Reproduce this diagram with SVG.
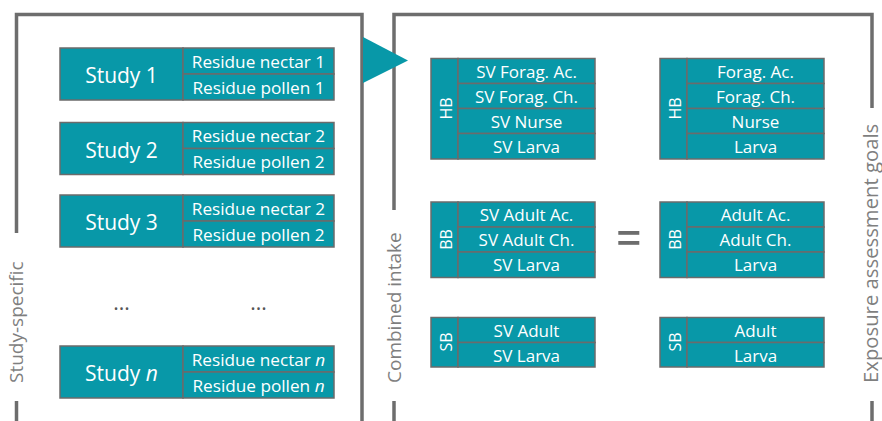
<svg xmlns="http://www.w3.org/2000/svg" width="882" height="421" viewBox="0 0 882 421">
<style>
.frame{fill:none;stroke:#6d6d6d;stroke-width:3.5}
.box{fill:#0898a8;stroke:#6b6b6b;stroke-width:1.5}
.t{font-family:"Open Sans","Noto Sans",sans-serif;fill:#ffffff;text-anchor:middle}
.s{font-size:21px}
.r{font-size:17.2px}
.g{font-size:17px}
.lab{font-size:16px}
.side{font-family:"Open Sans","Noto Sans",sans-serif;font-size:19px;fill:#7f7f7f}
</style>
<rect width="882" height="421" fill="#ffffff"/>
<g id="frames">
<polyline class="frame" points="16.5,233 16.5,14.5 362,14.5 362,421"/>
<line class="frame" x1="16.5" y1="401" x2="16.5" y2="421"/>
<polyline class="frame" points="394,210 394,14.5 872,14.5 872,108"/>
<line class="frame" x1="394" y1="401" x2="394" y2="421"/>
<line class="frame" x1="872" y1="401" x2="872" y2="421"/>
<polygon points="363,37 408,60.5 363,83" fill="#0898a8"/>
<rect x="618.3" y="231" width="21" height="3.8" fill="#6d6d6d"/>
<rect x="618.3" y="241" width="21" height="3.8" fill="#6d6d6d"/>
</g>
<text class="side" transform="translate(23,383) rotate(-90)">Study-specific</text>
<text class="side" transform="translate(401,383) rotate(-90)">Combined intake</text>
<text class="side" style="font-size:20.3px" transform="translate(877.5,383) rotate(-90)">Exposure assessment goals</text>
<g id="study1">
<rect class="box" x="60" y="48" width="123" height="52"/>
<rect class="box" x="183" y="48" width="151" height="26"/>
<rect class="box" x="183" y="74" width="151" height="26"/>
<text class="t s" x="121.5" y="83">Study 1</text>
<text class="t r" x="258.5" y="67.5">Residue nectar 1</text>
<text class="t r" x="258.5" y="93.5">Residue pollen 1</text>
</g>
<g id="study2">
<rect class="box" x="60" y="122.5" width="123" height="52"/>
<rect class="box" x="183" y="122.5" width="151" height="26"/>
<rect class="box" x="183" y="148.5" width="151" height="26"/>
<text class="t s" x="121.5" y="157.5">Study 2</text>
<text class="t r" x="258.5" y="142">Residue nectar 2</text>
<text class="t r" x="258.5" y="168">Residue pollen 2</text>
</g>
<g id="study3">
<rect class="box" x="60" y="195" width="123" height="52"/>
<rect class="box" x="183" y="195" width="151" height="26"/>
<rect class="box" x="183" y="221" width="151" height="26"/>
<text class="t s" x="121.5" y="230">Study 3</text>
<text class="t r" x="258.5" y="214.5">Residue nectar 2</text>
<text class="t r" x="258.5" y="240.5">Residue pollen 2</text>
</g>
<g id="dots">
<text class="t s" x="121.5" y="310" style="fill:#555555">...</text>
<text class="t s" x="258.5" y="310" style="fill:#555555">...</text>
</g>
<g id="studyn">
<rect class="box" x="60" y="346" width="123" height="52"/>
<rect class="box" x="183" y="346" width="151" height="26"/>
<rect class="box" x="183" y="372" width="151" height="26"/>
<text class="t s" x="121.5" y="381">Study <tspan font-style="italic">n</tspan></text>
<text class="t r" x="258.5" y="365.5">Residue nectar <tspan font-style="italic">n</tspan></text>
<text class="t r" x="258.5" y="391.5">Residue pollen <tspan font-style="italic">n</tspan></text>
</g>
<g id="hb-sv">
<rect class="box" x="431" y="58.5" width="27" height="100.5"/>
<rect class="box" x="458" y="58.5" width="137" height="25"/>
<rect class="box" x="458" y="83.5" width="137" height="25"/>
<rect class="box" x="458" y="108.5" width="137" height="25"/>
<rect class="box" x="458" y="133.5" width="137" height="25.5"/>
<text class="t lab" transform="translate(451.5,108.5) rotate(-90)">HB</text>
<text class="t g" x="526.5" y="77.5">SV Forag. Ac.</text>
<text class="t g" x="526.5" y="102.5">SV Forag. Ch.</text>
<text class="t g" x="526.5" y="127.5">SV Nurse</text>
<text class="t g" x="526.5" y="152.5">SV Larva</text>
</g>
<g id="hb-goal">
<rect class="box" x="660" y="58.5" width="27" height="100.5"/>
<rect class="box" x="687" y="58.5" width="137" height="25"/>
<rect class="box" x="687" y="83.5" width="137" height="25"/>
<rect class="box" x="687" y="108.5" width="137" height="25"/>
<rect class="box" x="687" y="133.5" width="137" height="25.5"/>
<text class="t lab" transform="translate(680.5,108.5) rotate(-90)">HB</text>
<text class="t g" x="755.5" y="77.5">Forag. Ac.</text>
<text class="t g" x="755.5" y="102.5">Forag. Ch.</text>
<text class="t g" x="755.5" y="127.5">Nurse</text>
<text class="t g" x="755.5" y="152.5">Larva</text>
</g>
<g id="bb-sv">
<rect class="box" x="431" y="202" width="27" height="75.5"/>
<rect class="box" x="458" y="202" width="137" height="25"/>
<rect class="box" x="458" y="227" width="137" height="25"/>
<rect class="box" x="458" y="252" width="137" height="25.5"/>
<text class="t lab" transform="translate(451.5,239.5) rotate(-90)">BB</text>
<text class="t g" x="526.5" y="221">SV Adult Ac.</text>
<text class="t g" x="526.5" y="246">SV Adult Ch.</text>
<text class="t g" x="526.5" y="271">SV Larva</text>
</g>
<g id="bb-goal">
<rect class="box" x="660" y="202" width="27" height="75.5"/>
<rect class="box" x="687" y="202" width="137" height="25"/>
<rect class="box" x="687" y="227" width="137" height="25"/>
<rect class="box" x="687" y="252" width="137" height="25.5"/>
<text class="t lab" transform="translate(680.5,239.5) rotate(-90)">BB</text>
<text class="t g" x="755.5" y="221">Adult Ac.</text>
<text class="t g" x="755.5" y="246">Adult Ch.</text>
<text class="t g" x="755.5" y="271">Larva</text>
</g>
<g id="sb-sv">
<rect class="box" x="431" y="317.5" width="27" height="49.5"/>
<rect class="box" x="458" y="317.5" width="137" height="25"/>
<rect class="box" x="458" y="342.5" width="137" height="24.5"/>
<text class="t lab" transform="translate(451.5,342) rotate(-90)">SB</text>
<text class="t g" x="526.5" y="336.5">SV Adult</text>
<text class="t g" x="526.5" y="361.5">SV Larva</text>
</g>
<g id="sb-goal">
<rect class="box" x="660" y="317.5" width="27" height="49.5"/>
<rect class="box" x="687" y="317.5" width="137" height="25"/>
<rect class="box" x="687" y="342.5" width="137" height="24.5"/>
<text class="t lab" transform="translate(680.5,342) rotate(-90)">SB</text>
<text class="t g" x="755.5" y="336.5">Adult</text>
<text class="t g" x="755.5" y="361.5">Larva</text>
</g>
</svg>
